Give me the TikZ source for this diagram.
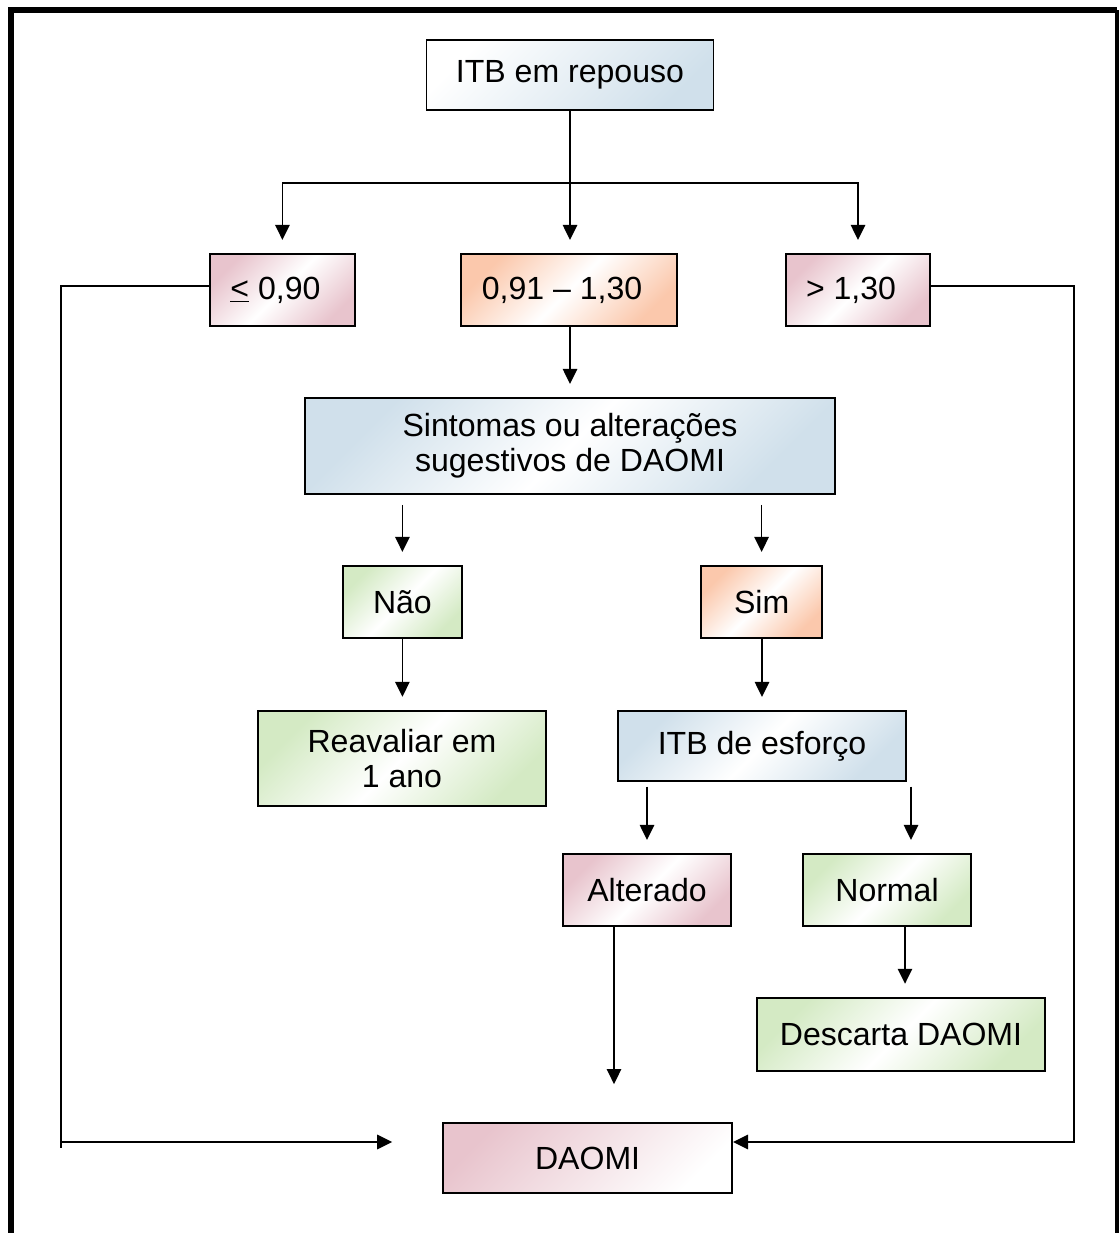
\documentclass[tikz,border=0pt]{standalone}
\usepackage{fontspec}
\setmainfont{Liberation Sans}
\usepackage{tikz}
\usetikzlibrary{arrows.meta,calc}
\usepackage{xcolor}
\definecolor{itbblue}{RGB}{208,224,235}
\definecolor{itbpink}{RGB}{232,196,205}
\definecolor{itborange}{RGB}{251,200,172}
\definecolor{itbgreen}{RGB}{212,234,196}
\newcommand{\flowfont}{\fontsize{22.8}{25}\selectfont}

\begin{document}
\begin{tikzpicture}[
    box/.style={draw,line width=1.3pt,inner sep=0pt,align=center,font=\flowfont},
    blueband/.style={top color=itbblue,bottom color=itbblue,middle color=white,shading angle=45},
    pinkband/.style={top color=itbpink,bottom color=itbpink,middle color=white,shading angle=45},
    orangeband/.style={top color=itborange,bottom color=itborange,middle color=white,shading angle=45},
    greenband/.style={top color=itbgreen,bottom color=itbgreen,middle color=white,shading angle=45},
    arr/.style={-{Triangle[length=0.375cm,width=0.36cm]},line width=1.2pt},
    gap/.style={shorten >=0.33cm}]
    \useasboundingbox (0,0) rectangle (28,-30.825);

    % Frame (open at the bottom)
    \draw[line width=4.2pt] (0.275,-30.825) -- (0.275,-0.25) -- (27.93,-0.25);
    \draw[line width=2.6pt] (27.93,-0.25) -- (27.93,-30.825);

    % Rest index
    \node[box,top color=white,bottom color=itbblue,shading angle=45,
          minimum width=7.175cm,minimum height=1.75cm] (rep) at (14.25,-1.875) {ITB em repouso};

    % Ranges
    \node[box,pinkband,minimum width=3.625cm,minimum height=1.8cm] (low) at (7.06,-7.25) {\underline{<} 0,90\kern0.35cm};
    \node[box,orangeband,minimum width=5.4cm,minimum height=1.8cm] (mid) at (14.225,-7.25) {0,91 – 1,30\kern0.35cm};
    \node[box,pinkband,minimum width=3.6cm,minimum height=1.8cm] (high) at (21.45,-7.25) {> 1,30\kern0.35cm};

    % Symptoms
    \node[box,blueband,minimum width=13.25cm,minimum height=2.4cm] (sint) at (14.25,-11.15)
        {Sintomas ou alterações\\sugestivos de DAOMI};
    \node[box,greenband,minimum width=2.975cm,minimum height=1.8cm] (nao) at (10.06,-15.05) {Não};
    \node[box,orangeband,minimum width=3.025cm,minimum height=1.8cm] (sim) at (19.04,-15.05) {Sim};
    \node[box,greenband,minimum width=7.2cm,minimum height=2.375cm] (reav) at (10.05,-18.96)
        {Reavaliar em\\1 ano};

    % Exercise index
    \node[box,blueband,minimum width=7.2cm,minimum height=1.75cm] (esf) at (19.05,-18.65) {ITB de esforço};
    \node[box,pinkband,minimum width=4.2cm,minimum height=1.8cm] (alt) at (16.175,-22.25) {Alterado};
    \node[box,greenband,minimum width=4.2cm,minimum height=1.8cm] (norm) at (22.175,-22.25) {Normal};
    \node[box,greenband,minimum width=7.2cm,minimum height=1.825cm] (desc) at (22.525,-25.86) {Descarta DAOMI};

    % Diagnosis
    \node[box,top color=itbpink,bottom color=white,shading angle=45,
          minimum width=7.225cm,minimum height=1.75cm] (daomi) at (14.69,-28.95) {DAOMI};

    % Helper points
    \coordinate (split) at (14.25,-4.575);
    \coordinate (lfoot) at (1.525,-28.7);
    \coordinate (rx) at (26.85,0);
    \coordinate (dl) at ([yshift=0.4cm]daomi.west);
    \coordinate (dr) at ([yshift=0.4cm]daomi.east);
    \coordinate (altdrop) at ([xshift=-0.825cm]alt.south);
    \coordinate (normin) at ([xshift=0.6cm]norm.north);
    \coordinate (normout) at ([xshift=0.45cm]norm.south);

    % Connectors
    \draw[arr,gap] (rep.south) -- (rep.south |- mid.north);
    \draw[arr,gap] (split) -| (low.north);
    \draw[arr,gap] (split) -| (high.north);
    \draw[arr,gap] (sint.north |- mid.south) -- (sint.north);
    \foreach \n in {nao,sim}
        \draw[arr,gap,shorten <=0.25cm] (sint.south -| \n.north) -- (\n.north);
    \draw[arr,gap] (nao.south) -- (nao.south |- reav.north);
    \draw[arr,gap] (esf.north |- sim.south) -- (esf.north);
    \draw[arr,gap,shorten <=0.12cm] (esf.south -| alt.north) -- (alt.north);
    \draw[arr,gap,shorten <=0.12cm] (esf.south -| normin) -- (normin);
    \draw[arr,shorten >=0.95cm] (altdrop) -- (altdrop |- daomi.north);
    \draw[arr,gap] (normout) -- (normout |- desc.north);

    % Side loops
    \draw[line width=1.2pt] ([yshift=0.1cm]low.west) -| (lfoot);
    \draw[arr,shorten >=1.25cm] (lfoot |- dl) -- (dl);
    \draw[arr] ([yshift=0.1cm]high.east) -| (rx |- dr) -- (dr);
\end{tikzpicture}
\end{document}
